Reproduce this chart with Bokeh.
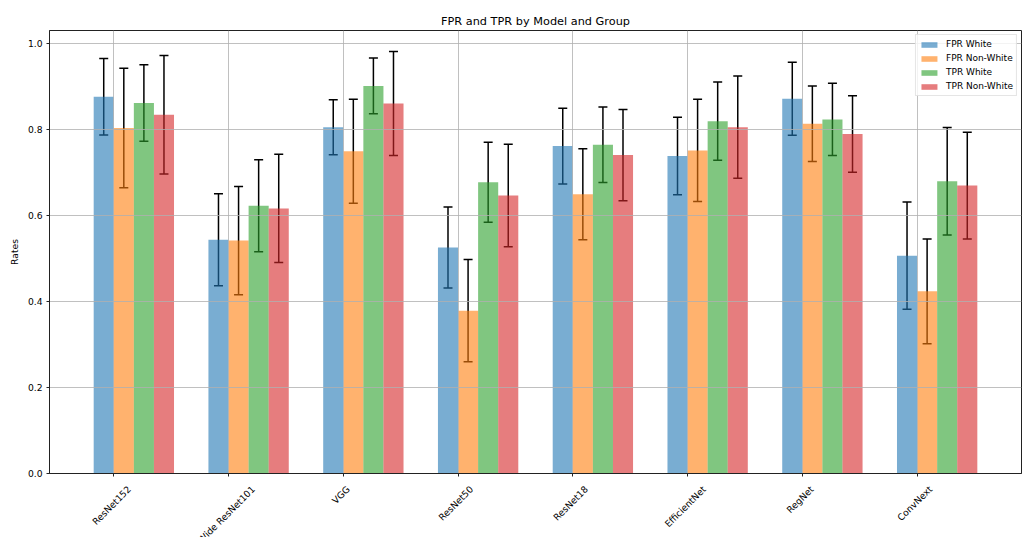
import math
from bokeh.plotting import figure
from bokeh.layouts import column
from bokeh.models import (ColumnDataSource, Whisker, TeeHead, FixedTicker, Range1d,
                          PrintfTickFormatter)
from bokeh.core.properties import value
from bokeh.embed import file_html
from bokeh.resources import INLINE

# ---------------- data ----------------
models = ["ResNet152", "Wide ResNet101", "VGG", "ResNet50", "ResNet18",
          "EfficientNet", "RegNet", "ConvNext"]
series = ["FPR White", "FPR Non-White", "TPR White", "TPR Non-White"]

fpr_white = [0.877, 0.544, 0.806, 0.526, 0.762, 0.739, 0.872, 0.507]
fpr_white_err = [0.089, 0.107, 0.064, 0.094, 0.088, 0.090, 0.085, 0.125]
fpr_nonwhite = [0.804, 0.542, 0.750, 0.379, 0.650, 0.752, 0.814, 0.424]
fpr_nonwhite_err = [0.139, 0.126, 0.121, 0.119, 0.106, 0.119, 0.088, 0.122]
tpr_white = [0.862, 0.623, 0.902, 0.678, 0.765, 0.820, 0.824, 0.680]
tpr_white_err = [0.089, 0.107, 0.065, 0.093, 0.088, 0.091, 0.084, 0.125]
tpr_nonwhite = [0.835, 0.617, 0.861, 0.647, 0.741, 0.806, 0.790, 0.670]
tpr_nonwhite_err = [0.138, 0.126, 0.121, 0.119, 0.106, 0.119, 0.089, 0.124]

y_ticks = [0.0, 0.2, 0.4, 0.6, 0.8, 1.0]

values = [fpr_white, fpr_nonwhite, tpr_white, tpr_nonwhite]
errors = [fpr_white_err, fpr_nonwhite_err, tpr_white_err, tpr_nonwhite_err]
colors = ["#1f77b4", "#ff7f0e", "#2ca02c", "#d62728"]

BAR_W = 0.175
FONT = "DejaVu Sans"
TICK_FS = 9.2
W = 1025
BL, BR, BT, BB = 49, 4, 30, 8
FRAME_H = 443
LAB_H = 56

# ---------------- main figure ----------------
p = figure(width=W, height=BT + FRAME_H + BB, output_backend="svg",
           toolbar_location=None,
           x_range=Range1d(-0.56, 7.91), y_range=Range1d(0, 1.031),
           min_border_left=BL, min_border_right=BR, min_border_top=BT,
           min_border_bottom=BB, title="FPR and TPR by Model and Group")
p.background_fill_color = "white"
p.border_fill_color = "white"
p.outline_line_color = "#222222"
p.outline_line_width = 1

p.title.align = "center"
p.title.text_font = FONT
p.title.text_font_size = "11.3px"
p.title.text_font_style = "normal"
p.title.text_color = "black"
p.title.standoff = 6

idx = list(range(len(models)))
for k, (name, vals, errs, col) in enumerate(zip(series, values, errors, colors)):
    xs = [i + (k - 0.5) * BAR_W for i in idx]
    src = ColumnDataSource(dict(
        x=xs, top=vals,
        upper=[v + e for v, e in zip(vals, errs)],
        lower=[v - e for v, e in zip(vals, errs)]))
    p.vbar(x="x", top="top", width=BAR_W, source=src, fill_color=col,
           fill_alpha=0.6, line_color=None, legend_label=name)
    w = Whisker(source=src, base="x", upper="upper", lower="lower",
                dimension="height", line_color="black", line_width=1.5,
                upper_head=TeeHead(size=9, line_color="black", line_width=1.5),
                lower_head=TeeHead(size=9, line_color="black", line_width=1.5))
    p.add_layout(w)

# x axis: tick marks only (labels drawn below, matplotlib-style)
xa = p.xaxis[0]
xa.ticker = FixedTicker(ticks=[], minor_ticks=idx)
xa.major_tick_line_color = None
xa.major_tick_out = 0
xa.major_tick_in = 0
xa.minor_tick_line_color = "#222222"
xa.minor_tick_out = 3
xa.minor_tick_in = 0
xa.major_label_standoff = 0
xa.axis_line_color = "#222222"

ya = p.yaxis[0]
ya.ticker = FixedTicker(ticks=y_ticks)
ya.formatter = PrintfTickFormatter(format="%.1f")
ya.axis_line_color = "#222222"
ya.major_tick_line_color = "#222222"
ya.major_tick_out = 3
ya.major_tick_in = 0
ya.minor_tick_line_color = None
ya.major_label_standoff = 4
ya.major_label_text_font = FONT
ya.major_label_text_font_size = f"{TICK_FS}px"
ya.major_label_text_color = "black"
ya.axis_label = "Rates"
ya.axis_label_text_font = FONT
ya.axis_label_text_font_size = f"{TICK_FS}px"
ya.axis_label_text_font_style = "normal"
ya.axis_label_text_color = "black"
ya.axis_label_standoff = 5

for g in (p.xgrid[0], p.ygrid[0]):
    g.grid_line_color = "#b0b0b0"
    g.grid_line_width = 0.8
    g.level = "glyph"
p.xgrid.ticker = FixedTicker(ticks=idx)
p.ygrid.ticker = FixedTicker(ticks=y_ticks)

# legend
lg = p.legend[0]
lg.location = "top_right"
lg.margin = 4
lg.padding = 3
lg.spacing = 2
lg.glyph_width = 20
lg.glyph_height = 7
lg.label_height = 12
lg.label_standoff = 7
lg.label_text_font = FONT
lg.label_text_font_size = "9px"
lg.label_text_color = "black"
lg.border_line_color = "#cccccc"
lg.border_line_width = 1
lg.background_fill_alpha = 0.8

# ---------------- x tick labels strip (rotated 45°, centred under ticks) ----------------
DEJAVU_W = {" ": .318, "-": .361, "0": .636, "1": .636, "2": .636, "5": .636, "8": .636,
            "a": .613, "c": .550, "d": .635, "e": .615, "f": .352, "g": .635, "i": .278,
            "n": .634, "o": .612, "s": .521, "t": .392, "v": .592, "x": .592,
            "C": .698, "E": .632, "G": .775, "N": .748, "R": .695, "V": .684, "W": .989}

def text_len(s, fs):
    return sum(DEJAVU_W.get(c, 0.6) for c in s) * fs

c45 = math.cos(math.pi / 4)
lab_src = ColumnDataSource(dict(
    x=idx, y=[0] * len(idx), text=models,
    xo=[c45 * text_len(m, TICK_FS) / 2 - 2.5 for m in models]))

p2 = figure(width=W, height=LAB_H, output_backend="svg", toolbar_location=None,
            x_range=p.x_range, y_range=Range1d(-(LAB_H - 6), 6),
            min_border_left=BL, min_border_right=BR, min_border_top=0,
            min_border_bottom=0, x_axis_location=None, y_axis_location=None)
p2.grid.visible = False
p2.outline_line_color = None
p2.background_fill_color = "white"
p2.border_fill_color = "white"
p2.text(x="x", y="y", text="text", x_offset="xo", source=lab_src,
        angle=math.pi / 4, text_align="right", text_baseline="middle",
        text_font=value(FONT), text_font_size=value(f"{TICK_FS}px"),
        text_color="black")

layout = column(p, p2, spacing=0)
open("out.html", "w").write(file_html(layout, INLINE))
